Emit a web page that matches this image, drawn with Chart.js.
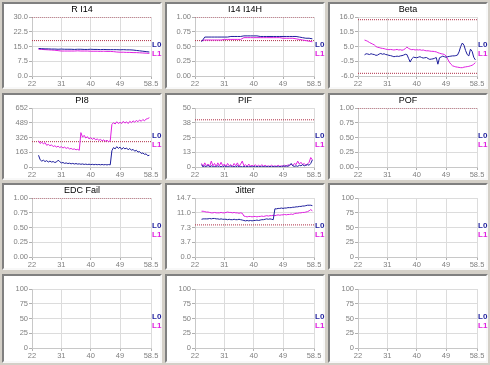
<!DOCTYPE html>
<html>
<head>
<meta charset="utf-8">
<script src="https://cdn.jsdelivr.net/npm/chart.js@4.4.1/dist/chart.umd.min.js"></script>
<style>
  html, body { margin: 0; padding: 0; }
  body { width: 490px; height: 365px; background: #d4d0c8; position: relative; overflow: hidden; font-family: 'Liberation Sans', Arial, sans-serif; }
  .panel { position: absolute; width: 160px; height: 87px; box-sizing: border-box; background: #fff;
           border: 2px solid; border-color: #808080 #f8f8f8 #f8f8f8 #808080; }
  .panel canvas { position: absolute; left: 0; top: 0; }
  .title { position: absolute; left: 0; right: 0; top: 0px; text-align: center; font-size: 9px; color: #000; }
  .lab { position: absolute; left: 148px; font-size: 8px; font-weight: bold; line-height: 8px; }
</style>
</head>
<body>
<script>
// x axis
const xTicks = [22, 31, 40, 49, 58.5]
const xTickLabels = ['22', '31', '40', '49', '58.5']
const xCoarse = [24, 25, 26, 27, 28, 29, 30, 31, 32, 33, 34, 35, 36, 37, 38, 39, 40, 41, 42, 43,
  44, 45, 46, 47, 48, 49, 50, 51, 52, 53, 54, 55, 56, 57, 58]
const xFine = [24, 24.5, 25, 25.5, 26, 26.5, 27, 27.5, 28, 28.5, 29, 29.5, 30, 30.5, 31, 31.5, 32, 32.5, 33, 33.5,
  34, 34.5, 35, 35.5, 36, 36.5, 37, 37.5, 38, 38.5, 39, 39.5, 40, 40.5, 41, 41.5, 42, 42.5, 43, 43.5,
  44, 44.5, 45, 45.5, 46, 46.5, 47, 47.5, 48, 48.5, 49, 49.5, 50, 50.5, 51, 51.5, 52, 52.5, 53, 53.5,
  54, 54.5, 55, 55.5, 56, 56.5, 57, 57.5, 58]

// R I14
const ri14Ticks = [0, 7.5, 15, 22.5, 30]
const ri14Labels = ['0.0', '7.5', '15.0', '22.5', '30.0']
const ri14Limits = [30, 18]
const ri14L0 = [14.0, 13.9, 13.8, 13.8, 13.7, 13.7, 13.6, 13.7, 13.6, 13.6,
  13.6, 13.5, 13.6, 13.6, 13.5, 13.5, 13.6, 13.5, 13.5, 13.4,
  13.5, 13.4, 13.4, 13.4, 13.4, 13.3, 13.4, 13.3, 13.3, 13.2,
  13.0, 12.8, 12.6, 12.4, 12.2]
const ri14L1 = [13.6, 13.5, 13.4, 13.3, 13.2, 13.1, 12.9, 12.7, 12.7, 12.7,
  12.7, 12.7, 12.8, 12.7, 12.7, 12.7, 12.6, 12.6, 12.6, 12.5,
  12.6, 12.5, 12.5, 12.4, 12.2, 12.1, 12.1, 12.0, 12.0, 11.9,
  11.9, 11.8, 11.7, 11.6, 11.5]

// I14 I14H
const ratioTicks = [0, 0.25, 0.5, 0.75, 1]
const ratioLabels = ['0.00', '0.25', '0.50', '0.75', '1.00']
const ratioLimits = [1, 0.6]
const ratioL0 = [0.58, 0.66, 0.66, 0.66, 0.66, 0.66, 0.66, 0.66, 0.66, 0.67,
  0.67, 0.67, 0.67, 0.68, 0.68, 0.68, 0.68, 0.68, 0.67, 0.67,
  0.67, 0.67, 0.67, 0.67, 0.67, 0.67, 0.67, 0.67, 0.67, 0.67,
  0.66, 0.65, 0.64, 0.64, 0.63]
const ratioL1 = [0.60, 0.61, 0.61, 0.61, 0.61, 0.61, 0.61, 0.62, 0.62, 0.62,
  0.62, 0.62, 0.62, 0.65, 0.65, 0.65, 0.65, 0.65, 0.65, 0.65,
  0.65, 0.65, 0.65, 0.65, 0.65, 0.64, 0.64, 0.64, 0.64, 0.63,
  0.62, 0.61, 0.60, 0.59, 0.58]

// Beta
const betaTicks = [-6, -0.5, 5, 10.5, 16]
const betaLabels = ['-6.0', '-0.5', '5.0', '10.5', '16.0']
const betaLimits = [15, -5]
const betaL0 = [1.9, 2.3, 2.2, 2.0, 2.3, 2.1, 2.0, 1.7, 1.8, 2.2,
  2.4, 2.1, 2.3, 2.0, 1.9, 1.7, 1.6, 1.4, 1.2, 1.3,
  1.4, 1.3, 1.5, 1.6, 1.8, 2.1, 2.0, 0.6, -0.8, 0.4,
  1.0, 0.9, 0.8, 1.0, 1.2, 0.9, 0.7, 0.8, 0.9, 0.5,
  0.2, 0.3, 0.4, 0.6, 0.9, -1.6, 0.8, 1.1, 1.4, 1.2,
  1.0, 1.2, 1.3, 1.4, 1.5, 1.5, 1.6, 1.8, 3.0, 5.0,
  6.3, 5.5, 3.5, 2.0, 1.5, 4.0, 3.2, 1.0, 0.0]
const betaL1 = [7.4, 7.2, 6.9, 6.5, 6.2, 5.9, 5.6, 5.0, 4.7, 4.6,
  4.4, 4.3, 4.2, 4.0, 3.9, 3.8, 3.9, 3.8, 3.7, 3.8,
  3.9, 3.7, 3.8, 3.6, 3.8, 4.2, 4.8, 4.3, 4.0, 3.8,
  3.9, 3.7, 3.8, 3.7, 3.8, 3.6, 3.7, 3.5, 3.4, 3.4,
  3.3, 3.2, 3.2, 3.1, 3.0, 2.7, 2.5, 2.3, 2.2, 2.0,
  1.5, 0.3, -0.8, -1.6, -2.2, -2.4, -2.6, -2.7, -2.8, -2.9,
  -2.9, -2.7, -2.6, -2.5, -2.4, -2.2, -2.0, -1.6, -1.0]

// PI8
const pi8Ticks = [0, 163, 326, 489, 652]
const pi8Labels = ['0', '163', '326', '489', '652']
const pi8Limits = [280]
const pi8L0 = [130, 80, 65, 75, 60, 70, 55, 65, 55, 60,
  50, 55, 75, 60, 45, 50, 40, 45, 38, 42,
  35, 40, 33, 38, 32, 35, 30, 34, 28, 32,
  27, 31, 26, 30, 25, 29, 25, 28, 24, 28,
  24, 27, 23, 27, 24, 180, 215, 200, 225, 205,
  220, 195, 215, 200, 210, 190, 205, 185, 195, 175,
  185, 165, 170, 150, 155, 140, 145, 125, 130]
const pi8L1 = [290, 260, 275, 255, 270, 240, 250, 235, 245, 225,
  235, 220, 230, 215, 225, 210, 220, 205, 215, 200,
  205, 195, 200, 190, 195, 185, 380, 330, 350, 320,
  335, 310, 325, 305, 320, 300, 310, 295, 305, 290,
  300, 285, 295, 280, 290, 470, 490, 475, 500, 480,
  495, 480, 505, 485, 500, 480, 505, 490, 510, 495,
  515, 500, 520, 505, 525, 510, 530, 535, 545]

// PIF
const pifTicks = [0, 12.5, 25, 37.5, 50]
const pifLabels = ['0', '13', '25', '38', '50']
const pifLimits = [40]
const pifL0 = [2, 0, 1, 0, 1.5, 0, 1, 0, 0.5, 0,
  1, 0, 0.5, 0, 1, 0, 0.5, 0, 1, 0,
  0.5, 0, 1, 0, 0.5, 0, 0.5, 0, 0.5, 0,
  0.5, 0, 0.5, 0, 0.5, 0, 0.5, 0, 0.5, 0,
  0.5, 0, 0.5, 0, 0.5, 0, 0.5, 0, 0.5, 0,
  1, 0.5, 1, 0.5, 1.5, 3, 1, 0.5, 1, 0.5,
  1.5, 1, 2, 1, 1.5, 2, 1.5, 3, 6]
const pifL1 = [3, 0.5, 3.5, 1, 2.5, 0.5, 5, 1, 3, 0.5,
  3.5, 1, 4, 1, 2.5, 0.5, 3, 1, 2, 0.5,
  3, 1, 3.5, 0.5, 2.5, 5, 1, 2, 0.5, 2.5,
  0.5, 1.5, 0.5, 2, 0.5, 1.5, 0.5, 2, 0.5, 1.5,
  0.5, 1, 0.5, 1.5, 0.5, 1, 0.5, 1.5, 0.5, 1,
  0.5, 1.5, 0.5, 2, 1, 2.5, 1, 3, 2, 5,
  2.5, 4, 2, 3, 1.5, 2.5, 4, 8, 6]

// POF, EDC Fail
const flagTicks = [0, 0.25, 0.5, 0.75, 1]
const flagLabels = ['0.00', '0.25', '0.50', '0.75', '1.00']
const flagLimits = [1]

// Jitter
const jitterTicks = [0, 3.675, 7.35, 11.025, 14.7]
const jitterLabels = ['0.0', '3.7', '7.3', '11.0', '14.7']
const jitterLimits = [8]
const jitterL0 = [9.4, 9.5, 9.5, 9.5, 9.5, 9.6, 9.5, 9.6, 9.6, 9.5,
  9.5, 9.4, 9.5, 9.4, 9.4, 9.4, 9.3, 9.4, 9.3, 9.3,
  9.4, 9.3, 9.3, 9.4, 9.3, 9.2, 9.1, 9.0, 9.1, 9.0,
  9.1, 9.0, 9.1, 9.1, 9.2, 9.1, 9.2, 9.3, 9.3, 9.4,
  9.5, 9.4, 9.5, 9.4, 9.3, 12.0, 12.0, 12.1, 12.1, 12.2,
  12.1, 12.2, 12.2, 12.3, 12.3, 12.3, 12.4, 12.4, 12.5, 12.5,
  12.6, 12.6, 12.7, 12.7, 12.8, 12.9, 12.9, 12.9, 12.8]
const jitterL1 = [11.4, 11.4, 11.3, 11.2, 11.2, 11.1, 11.0, 11.0, 11.1, 11.0,
  11.0, 11.0, 11.1, 11.0, 11.0, 11.1, 11.2, 11.1, 11.1, 11.0,
  11.1, 11.0, 11.0, 10.9, 11.0, 10.9, 10.2, 10.1, 10.0, 10.1,
  10.1, 10.0, 10.1, 10.1, 10.0, 10.1, 10.1, 10.2, 10.1, 10.2,
  10.3, 10.2, 10.3, 10.3, 10.4, 10.3, 10.4, 10.5, 10.4, 10.5,
  10.5, 10.6, 10.5, 10.6, 10.6, 10.7, 10.6, 10.8, 10.9, 10.9,
  11.0, 11.0, 11.1, 11.1, 11.2, 11.3, 11.5, 11.8, 11.5]

// empty panels
const pctTicks = [0, 25, 50, 75, 100]
const pctLabels = ['0', '25', '50', '75', '100']

const panels = [
  { title: 'R I14', xs: xCoarse, l0: ri14L0, l1: ri14L1, yTicks: ri14Ticks, yLabels: ri14Labels, limits: ri14Limits },
  { title: 'I14 I14H', xs: xCoarse, l0: ratioL0, l1: ratioL1, yTicks: ratioTicks, yLabels: ratioLabels, limits: ratioLimits },
  { title: 'Beta', xs: xFine, l0: betaL0, l1: betaL1, yTicks: betaTicks, yLabels: betaLabels, limits: betaLimits },
  { title: 'PI8', xs: xFine, l0: pi8L0, l1: pi8L1, yTicks: pi8Ticks, yLabels: pi8Labels, limits: pi8Limits },
  { title: 'PIF', xs: xFine, l0: pifL0, l1: pifL1, yTicks: pifTicks, yLabels: pifLabels, limits: pifLimits },
  { title: 'POF', yTicks: flagTicks, yLabels: flagLabels, limits: flagLimits },
  { title: 'EDC Fail', yTicks: flagTicks, yLabels: flagLabels, limits: flagLimits },
  { title: 'Jitter', xs: xFine, l0: jitterL0, l1: jitterL1, yTicks: jitterTicks, yLabels: jitterLabels, limits: jitterLimits },
  { title: '', yTicks: pctTicks, yLabels: pctLabels, limits: [] },
  { title: '', yTicks: pctTicks, yLabels: pctLabels, limits: [] },
  { title: '', yTicks: pctTicks, yLabels: pctLabels, limits: [] },
  { title: '', yTicks: pctTicks, yLabels: pctLabels, limits: [] }
]

const colLeft = [2, 165, 328]
const rowTop = [2, 93, 183, 274]
const rowHeight = [87, 87, 87, 89]
const blue = '#1e1e9c'
const magenta = '#e020e0'
const limitColor = '#b03048'
const gridColor = '#dcdcdc'
const tickFont = { family: "'Liberation Sans', Arial, sans-serif", size: 7.5 }

function makePanel(p, i) {
    const row = Math.floor(i / 3)
    const div = document.createElement('div')
    div.className = 'panel'
    div.style.left = colLeft[i % 3] + 'px'
    div.style.top = rowTop[row] + 'px'
    div.style.height = rowHeight[row] + 'px'
    document.body.appendChild(div)

    const canvas = document.createElement('canvas')
    canvas.width = 156
    canvas.height = 83
    div.appendChild(canvas)

    const title = document.createElement('div')
    title.className = 'title'
    title.textContent = p.title
    div.appendChild(title)

    const lab0 = document.createElement('div')
    lab0.className = 'lab'
    lab0.style.top = '37px'
    lab0.style.color = blue
    lab0.textContent = 'L0'
    div.appendChild(lab0)
    const lab1 = document.createElement('div')
    lab1.className = 'lab'
    lab1.style.top = '46px'
    lab1.style.color = magenta
    lab1.textContent = 'L1'
    div.appendChild(lab1)

    const datasets = []
    if (p.l0) {
        datasets.push({ data: p.xs.map((x, k) => ({ x, y: p.l0[k] })), borderColor: blue, borderWidth: 1, pointRadius: 0 })
        datasets.push({ data: p.xs.map((x, k) => ({ x, y: p.l1[k] })), borderColor: magenta, borderWidth: 1, pointRadius: 0 })
    }
    p.limits.forEach(v => {
        datasets.push({
            data: [{ x: xTicks[0], y: v }, { x: xTicks[xTicks.length - 1], y: v }],
            borderColor: limitColor, borderWidth: 1, borderDash: [1, 1], pointRadius: 0
        })
    })

    new Chart(canvas, {
        type: 'line',
        data: { datasets },
        options: {
            responsive: false,
            animation: false,
            layout: { padding: { top: 13, right: 9, left: 0, bottom: 0 } },
            plugins: { legend: { display: false }, tooltip: { enabled: false } },
            elements: { line: { tension: 0 } },
            scales: {
                x: {
                    type: 'linear',
                    min: xTicks[0],
                    max: xTicks[xTicks.length - 1],
                    afterBuildTicks: s => { s.ticks = xTicks.map(v => ({ value: v })) },
                    afterFit: s => { s.height = 11 },
                    ticks: { callback: (v, k) => xTickLabels[k], font: tickFont, color: '#808080', padding: 0, maxRotation: 0, autoSkip: false },
                    grid: { color: gridColor, tickLength: 3, tickColor: '#b0b0b0' },
                    border: { color: '#c8c8c8' }
                },
                y: {
                    type: 'linear',
                    min: p.yTicks[0],
                    max: p.yTicks[p.yTicks.length - 1],
                    afterBuildTicks: s => { s.ticks = p.yTicks.map(v => ({ value: v })) },
                    afterFit: s => { s.width = 28 },
                    ticks: { callback: (v, k) => p.yLabels[k], font: tickFont, color: '#808080', padding: 1, autoSkip: false },
                    grid: { color: gridColor, tickLength: 3, tickColor: '#b0b0b0' },
                    border: { color: '#c8c8c8' }
                }
            }
        }
    })
}

panels.forEach(makePanel)
</script>
</body>
</html>
